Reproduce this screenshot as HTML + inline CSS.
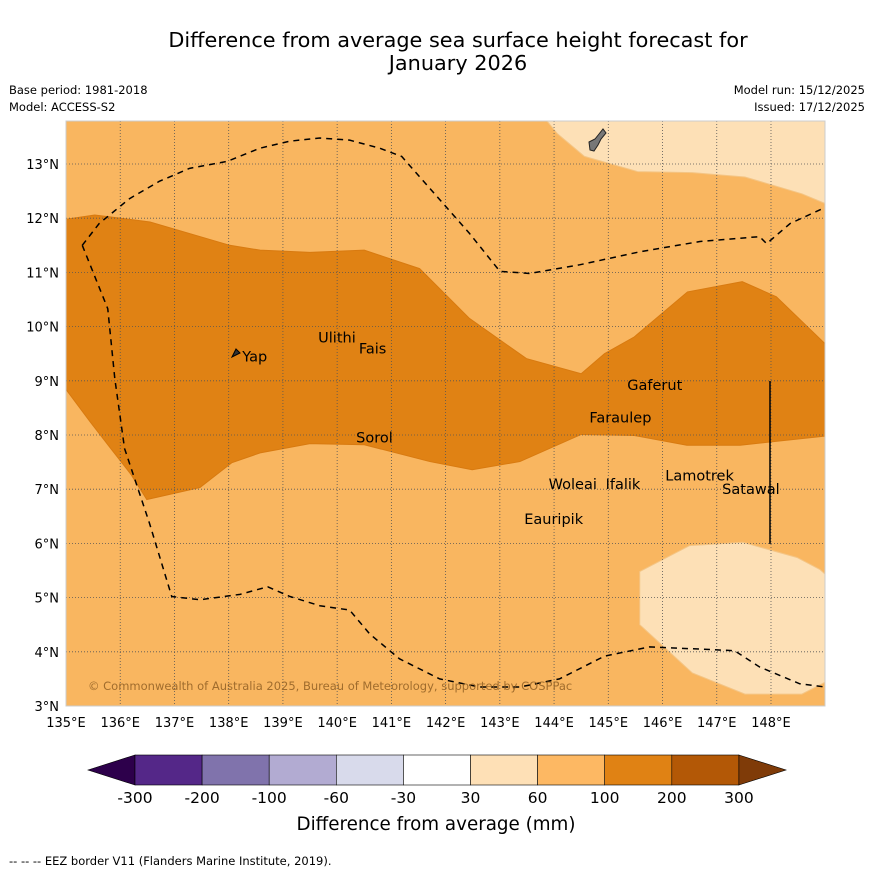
<!DOCTYPE html>
<html><head><meta charset="utf-8"><style>
body{margin:0;background:#fff;width:873px;height:873px;overflow:hidden;font-family:"DejaVu Sans",sans-serif}
svg text{font-family:"DejaVu Sans","Liberation Sans",sans-serif}
</style></head><body>
<svg id="chart" width="873" height="873" xmlns="http://www.w3.org/2000/svg">
<text x="458" y="47" font-size="20.8" text-anchor="middle">Difference from average sea surface height forecast for</text>
<text x="458" y="70" font-size="20.8" text-anchor="middle">January 2026</text>
<text x="9" y="94" font-size="11.5">Base period: 1981-2018</text>
<text x="9" y="111" font-size="11.5">Model: ACCESS-S2</text>
<text x="865" y="94" font-size="11.5" text-anchor="end">Model run: 15/12/2025</text>
<text x="865" y="111" font-size="11.5" text-anchor="end">Issued: 17/12/2025</text>
<defs><clipPath id="mc"><rect x="66" y="121" width="759" height="585"/></clipPath></defs>
<g id="map" clip-path="url(#mc)"></g>
<g id="axes"></g>
<g id="cbar"></g>
<text x="436" y="830" font-size="18.3" text-anchor="middle">Difference from average (mm)</text>
<text x="9" y="865" font-size="11.5">--  --  -- EEZ border V11 (Flanders Marine Institute, 2019).</text>
</svg>
<script>
const lonTicks=[135,136,137,138,139,140,141,142,143,144,145,146,147,148];
const latTicks=[3,4,5,6,7,8,9,10,11,12,13];
const cbLabels=["-300","-200","-100","-60","-30","30","60","100","200","300"];
const cbColors=["#542788","#8073ac","#b2abd2","#d8daeb","#ffffff","#fee0b6","#fdb863","#e08214","#b35806"];
const places=[["Yap",138.25,9.45],["Ulithi",139.65,9.8],["Fais",140.4,9.6],["Sorol",140.35,7.95],["Gaferut",145.35,8.92],["Faraulep",144.65,8.32],["Woleai",143.9,7.1],["Ifalik",144.95,7.1],["Eauripik",143.45,6.45],["Lamotrek",146.05,7.25],["Satawal",147.1,7.0]];
const darkBand=[[135,11.98],[135.53,12.06],[136.55,11.93],[138.02,11.5],[138.58,11.41],[139.5,11.37],[140.5,11.41],[141.52,11.07],[142.44,10.15],[143.49,9.41],[144.5,9.13],[144.93,9.5],[145.48,9.81],[146.46,10.64],[147.47,10.83],[148.1,10.55],[149,9.68],[149,7.98],[147.98,7.87],[147.43,7.81],[146.45,7.81],[145.48,7.99],[144.5,8.01],[143.37,7.51],[142.49,7.36],[141.71,7.51],[140.5,7.82],[139.5,7.84],[138.58,7.67],[138.06,7.49],[137.47,7.03],[136.49,6.81],[136.2,7.27],[135.81,7.77],[135.44,8.25],[135,8.84]];
const lightTop=[[143.7,14],[144.06,13.56],[144.56,13.14],[145.54,12.86],[146.55,12.84],[147.52,12.76],[148.57,12.45],[149,12.27],[149,14]];
const lightBottom=[[145.58,5.48],[146.5,5.96],[147.48,6.02],[148.48,5.74],[148.9,5.52],[149,5.43],[149,3.44],[148.57,3.22],[147.52,3.22],[146.55,3.61],[145.58,4.5]];
const eez=[[135.3,11.5],[135.61,11.9],[136.17,12.36],[136.72,12.68],[137.28,12.92],[137.98,13.05],[138.57,13.29],[139.12,13.42],[139.68,13.48],[140.23,13.44],[140.79,13.29],[141.19,13.14],[141.71,12.55],[142.44,11.72],[143,11.02],[143.55,10.98],[144.47,11.14],[145.58,11.38],[146.69,11.57],[147.79,11.66],[147.92,11.53],[148.35,11.9],[149,12.2]];
const eez2=[[135.3,11.5],[135.77,10.33],[135.9,9.04],[136.08,7.75],[136.54,6.37],[136.95,5.02],[137.47,4.96],[138.21,5.06],[138.72,5.2],[139.13,5.02],[139.68,4.85],[140.23,4.77],[140.6,4.33],[141.15,3.87],[141.89,3.5],[142.63,3.35],[143.37,3.35],[144.1,3.5],[144.93,3.92],[145.76,4.09],[146.69,4.05],[147.33,4.02],[147.79,3.72],[148.53,3.41],[149,3.35]];
const x=l=>66+(l-135)*54.23, y=l=>706-(l-3)*54.2;
const NS="http://www.w3.org/2000/svg";
function mk(t,a,p){const e=document.createElementNS(NS,t);for(const k in a)e.setAttribute(k,a[k]);p.appendChild(e);return e;}
const map=document.getElementById('map'),axes=document.getElementById('axes'),cb=document.getElementById('cbar');
const pts=a=>a.map(p=>x(p[0])+','+y(p[1])).join(' ');
let r=mk('rect',{x:66,y:121,width:759,height:585,fill:'#f9b660'},map);


let e=mk('polygon',{points:pts(darkBand),fill:'#e08214',stroke:'#d87a10','stroke-width':1},map);


e=mk('polygon',{points:pts(lightTop),fill:'#fde0b6',stroke:'#f4c585'},map);


e=mk('polygon',{points:pts(lightBottom),fill:'#fde0b6',stroke:'#f4c585'},map);


lonTicks.forEach(l=>{const g=mk('line',{x1:x(l),x2:x(l),y1:121,y2:706,stroke:'#555','stroke-dasharray':'1,2','stroke-width':0.8},map);

});
latTicks.forEach(l=>{const g=mk('line',{y1:y(l),y2:y(l),x1:66,x2:825,stroke:'#555','stroke-dasharray':'1,2','stroke-width':0.8},map);

});
[eez,eez2].forEach(a=>{const g=mk('polyline',{points:pts(a),fill:'none',stroke:'#000','stroke-width':1.5,'stroke-dasharray':'6,5'},map);

});
e=mk('path',{d:'M589,142 L595,139 L599,134 L603,129 L606,133 L601,139 L598,145 L594,151 L590,150 Z',fill:'#777',stroke:'#222','stroke-width':1},map);


e=mk('path',{d:'M232,357 L236,349 L240,353 Z',fill:'#333',stroke:'#000'},map);


e=mk('line',{x1:770,x2:770,y1:381,y2:544,stroke:'#000','stroke-width':1.5},map);


places.forEach(p=>{const t=mk('text',{x:x(p[1]),y:y(p[2])+5,'font-size':14.5},map);t.textContent=p[0];

});
e=mk('text',{x:88,y:690,'font-size':11.5,fill:'#8a5a20','fill-opacity':0.8},map);e.textContent='© Commonwealth of Australia 2025, Bureau of Meteorology, supported by COSPPac';


e=mk('rect',{x:66,y:121,width:759,height:585,fill:'none',stroke:'#ccc'},axes);


lonTicks.forEach(l=>{const t=mk('text',{x:x(l),y:727,'font-size':13,'text-anchor':'middle'},axes);t.textContent=l+'°E';

});
latTicks.forEach(l=>{const t=mk('text',{x:59,y:y(l)+5,'font-size':13,'text-anchor':'end'},axes);t.textContent=l+'°N';

});
const cx0=135,cw=67.1;
e=mk('polygon',{points:'88,770 135,755 135,785',fill:'#2d004b',stroke:'#000','stroke-width':0.6},cb);


cbColors.forEach((c,i)=>{const s=mk('rect',{x:cx0+i*cw,y:755,width:cw,height:30,fill:c,stroke:'#000','stroke-width':0.6},cb);

});
e=mk('polygon',{points:(cx0+9*cw)+',755 786,770 '+(cx0+9*cw)+',785',fill:'#7f3b08',stroke:'#000','stroke-width':0.6},cb);


cbLabels.forEach((l,i)=>{const t=mk('text',{x:cx0+i*cw,y:803,'font-size':15.5,'text-anchor':'middle'},cb);t.textContent=l;

});
</script>
</body></html>
